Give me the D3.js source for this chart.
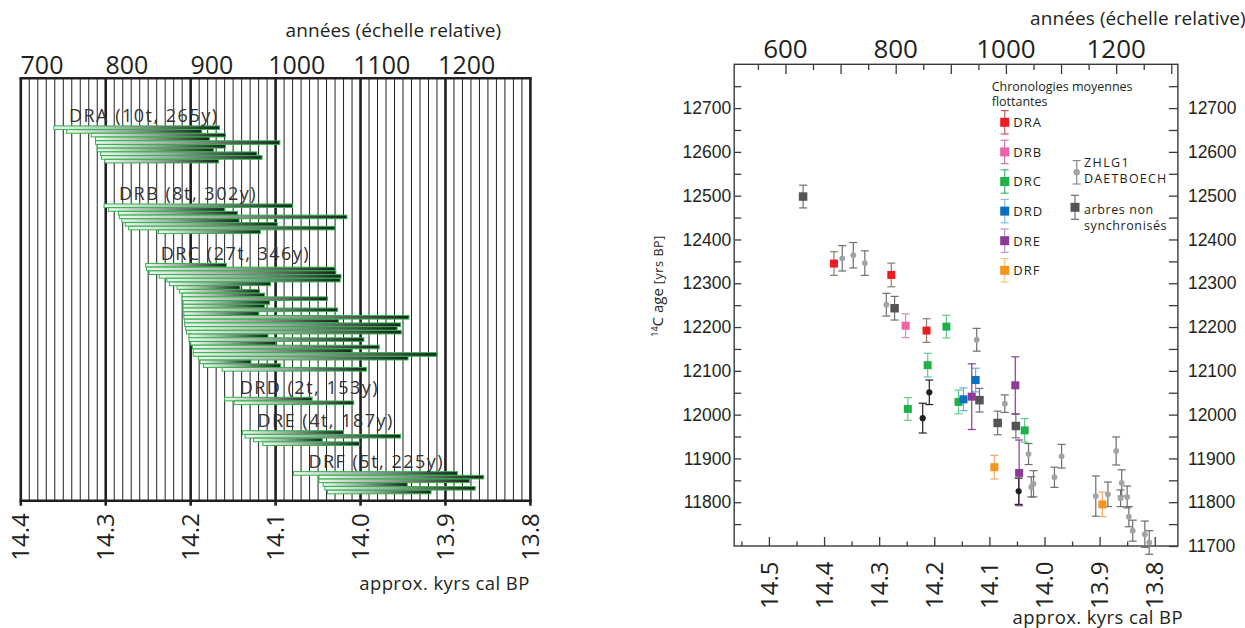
<!DOCTYPE html>
<html>
<head>
<meta charset="utf-8">
<script src="https://cdn.jsdelivr.net/npm/d3@7"></script>
<style>
    body { margin: 0; background: #fff; }
    svg { display: block; font-family: "Open Sans", sans-serif; }
</style>
</head>
<body>
<svg id="chart" width="1245" height="628"></svg>
<script>
// ---- data: floating tree-ring chronologies (relative years) ----
const chronoNames = ["DRA", "DRB", "DRC", "DRD", "DRE", "DRF"];
const chronoLabels = ["DRA (10t, 265y)", "DRB (8t, 302y)", "DRC (27t, 346y)", "DRD (2t, 153y)", "DRE (4t, 187y)", "DRF (5t, 225y)"];
const barsDRA = [[714, 909], [729, 888], [758, 916], [763, 897], [763, 980], [765, 916], [765, 902], [769, 953], [770, 959], [774, 908]];
const barsDRB = [[773, 995], [778, 915], [790, 930], [791, 1059], [794, 932], [798, 977], [802, 1045], [837, 957]];
const barsDRC = [[822, 917], [823, 1045], [826, 1046], [838, 1052], [847, 1051], [850, 969], [859, 933], [862, 956],
    [865, 962], [865, 1036], [866, 968], [866, 962], [866, 1048], [867, 955], [867, 1132], [868, 1049], [868, 1122],
    [869, 1118], [870, 1123], [873, 966], [873, 1079], [875, 975], [877, 1097], [878, 1065], [878, 1165], [884, 1131],
    [886, 946], [890, 981], [912, 1082]];
const barsDRD = [[915, 1018], [926, 1067]];
const barsDRE = [[936, 1055], [939, 1122], [949, 1030], [960, 1074]];
const barsDRF = [[996, 1189], [1026, 1220], [1026, 1203], [1031, 1130], [1033, 1210], [1036, 1158]];
const chronoBars = [barsDRA, barsDRB, barsDRC, barsDRD, barsDRE, barsDRF];

// ---- data: 14C dates [kyrs cal BP, 14C age, error] ----
const ptsDRA = [[14.382, 12345, 27], [14.278, 12319, 27], [14.214, 12192, 27]];
const ptsDRB = [[14.252, 12203, 27]];
const ptsDRC = [[14.178, 12201, 26], [14.212, 12113, 27], [14.248, 12013, 26], [14.156, 12029, 27], [14.036, 11964, 27]];
const ptsDRD = [[14.125, 12079, 27], [14.147, 12035, 26]];
const ptsDRE = [[14.132, 12041, 75], [14.053, 12067, 65], [14.046, 11867, 75]];
const ptsDRF = [[14.091, 11880, 27], [13.895, 11795, 28]];
const ptsZHLG = [[14.367, 12357, 29], [14.347, 12364, 29], [14.326, 12346, 28], [14.287, 12251, 26], [14.123, 12171, 26],
    [14.072, 12025, 20], [14.029, 11910, 24], [14.024, 11835, 23], [14.020, 11842, 30], [13.982, 11857, 23],
    [13.969, 11905, 27], [13.907, 11814, 46], [13.885, 11818, 28], [13.870, 11917, 32], [13.860, 11844, 30],
    [13.862, 11809, 19], [13.850, 11812, 25], [13.847, 11767, 23], [13.840, 11735, 24], [13.818, 11727, 30],
    [13.810, 11708, 27]];
const ptsBlack = [[14.209, 12051, 28], [14.221, 11992, 34], [14.047, 11825, 30]];
const ptsUnsync = [[14.438, 12498, 26], [14.272, 12243, 27], [14.118, 12033, 27], [14.085, 11981, 27], [14.052, 11974, 27]];

// ---- tick labels ----
const kyrTicksLeft = [14.4, 14.3, 14.2, 14.1, 14.0, 13.9, 13.8];
const yearTicksLeft = [700, 800, 900, 1000, 1100, 1200];
const kyrTicksRight = [14.5, 14.4, 14.3, 14.2, 14.1, 14.0, 13.9, 13.8];
const yearTicksRight = [600, 800, 1000, 1200];
const ageTicks = [11700, 11800, 11900, 12000, 12100, 12200, 12300, 12400, 12500, 12600, 12700];

const svg = d3.select("#chart");
const ink = "#231f20";
const fmt1 = d3.format(".1f");

// =================== left panel ===================
const xK = d3.scaleLinear().domain([14.4, 13.8]).range([20.8, 530.4]);
const xYr = d3.scaleLinear().domain([675, 1275]).range(xK.range());
const yTop = 78.3, yBot = 500.7;
const L = svg.append("g");

const defs = svg.append("defs");
const grad = defs.append("linearGradient").attr("id", "barGrad");
grad.selectAll("stop")
    .data([[0, "#f2f9f2"], [0.45, "#9ba79d"], [1, "#16221a"]])
    .join("stop")
    .attr("offset", d => d[0])
    .attr("stop-color", d => d[1]);

// grid every 10 years, heavy every 100
L.append("g").selectAll("line")
    .data(d3.range(675, 1276, 10))
    .join("line")
    .attr("x1", d => xYr(d)).attr("x2", d => xYr(d))
    .attr("y1", yTop).attr("y2", yBot)
    .attr("stroke", ink)
    .attr("stroke-width", d => (d - 675) % 100 === 0 ? 2.6 : 1);

L.append("line").attr("x1", xK.range()[0] - 1.3).attr("x2", xK.range()[1] + 1.3)
    .attr("y1", yTop).attr("y2", yTop).attr("stroke", ink).attr("stroke-width", 2.6);
L.append("line").attr("x1", xK.range()[0] - 1.3).attr("x2", xK.range()[1] + 1.3)
    .attr("y1", yBot).attr("y2", yBot).attr("stroke", ink).attr("stroke-width", 2.6);
L.append("g").selectAll("line")
    .data(kyrTicksLeft)
    .join("line")
    .attr("x1", d => xK(d)).attr("x2", d => xK(d))
    .attr("y1", yBot).attr("y2", yBot + 5)
    .attr("stroke", ink).attr("stroke-width", 2.6);

// rows: each chronology stacked, gaps leave room for the label
const gapRows = [0, 12, 9, 8, 8, 8];
let row = -1;
const groups = chronoBars.map((bars, i) => {
    row += (i === 0 ? 1 : gapRows[i]);
    const start = row;
    row += bars.length - 1;
    return { name: chronoNames[i], label: chronoLabels[i], bars, start };
});
const yRow = d3.scaleLinear().domain([0, row]).range([127.7, 492]);
const barH = 3.6;

for (const g of groups) {
    L.append("g").selectAll("rect")
        .data(g.bars)
        .join("rect")
        .attr("x", d => xYr(d[0]))
        .attr("width", d => xYr(d[1]) - xYr(d[0]))
        .attr("y", (d, i) => yRow(g.start + i) - barH / 2)
        .attr("height", barH)
        .attr("fill", "url(#barGrad)")
        .attr("stroke", "#2fb54c")
        .attr("stroke-width", 1);

    L.append("text")
        .attr("x", xYr(d3.min(g.bars, d => d[0])) + 15)
        .attr("y", yRow(g.start) - 5.5)
        .attr("font-size", 18)
        .attr("letter-spacing", 1.5)
        .attr("fill", "#333")
        .text(g.label);
}

L.append("g").selectAll("text")
    .data(yearTicksLeft)
    .join("text")
    .attr("x", d => xYr(d)).attr("y", 74)
    .attr("text-anchor", "middle")
    .attr("font-size", 25)
    .attr("fill", ink)
    .text(d => d);

L.append("g").selectAll("text")
    .data(kyrTicksLeft)
    .join("text")
    .attr("transform", d => `translate(${xK(d)},${yBot + 12.5}) rotate(-90)`)
    .attr("text-anchor", "end")
    .attr("dy", "0.36em")
    .attr("font-size", 24)
    .attr("fill", ink)
    .text(d => fmt1(d));

L.append("text").attr("x", 285.6).attr("y", 36.7)
    .attr("font-size", 19).attr("fill", ink).attr("letter-spacing", 0.1)
    .text("années (échelle relative)");
L.append("text").attr("x", 529.7).attr("y", 590)
    .attr("text-anchor", "end")
    .attr("font-size", 18.5).attr("fill", ink).attr("letter-spacing", 0.4)
    .text("approx. kyrs cal BP");

// =================== right panel ===================
const xR = d3.scaleLinear().domain([14.563, 13.758]).range([734.2, 1177.9]);
const xRyr = d3.scaleLinear().domain([507, 1312]).range(xR.range());
const yR = d3.scaleLinear().domain([11700, 12800]).range([546, 64.3]);
const R = svg.append("g");
const axisInk = "#3a3a3a";

const styleAxis = g => {
    g.select(".domain").remove();
    g.selectAll("line").attr("stroke", axisInk).attr("stroke-width", 1.3);
    g.selectAll("text").attr("font-family", null).attr("font-size", 17.5).attr("fill", ink);
};

R.append("g")
    .attr("transform", `translate(${xR.range()[0]},0)`)
    .call(d3.axisLeft(yR).tickValues(d3.range(11750, 12751, 50)).tickSize(-7).tickPadding(3)
        .tickFormat(d => d % 100 === 0 ? d : ""))
    .call(styleAxis);

R.append("g")
    .attr("transform", `translate(${xR.range()[1]},0)`)
    .call(d3.axisRight(yR).tickValues(d3.range(11700, 12751, 50)).tickSize(-9).tickPadding(10)
        .tickFormat(d => ageTicks.includes(d) ? d : ""))
    .call(styleAxis);

R.append("g")
    .attr("transform", `translate(0,${yR.range()[0]})`)
    .call(d3.axisBottom(xR).tickValues(kyrTicksRight).tickSize(-9).tickFormat(""))
    .call(styleAxis);
R.append("g")
    .attr("transform", `translate(0,${yR.range()[0]})`)
    .call(d3.axisBottom(xR).tickValues(kyrTicksRight.map(d => d + 0.05)).tickSize(-4.5).tickFormat(""))
    .call(styleAxis);

R.append("g")
    .attr("transform", `translate(0,${yR.range()[1]})`)
    .call(d3.axisTop(xRyr).tickValues(d3.range(600, 1301, 100)).tickSize(-9.7).tickFormat(""))
    .call(styleAxis);
R.append("g")
    .attr("transform", `translate(0,${yR.range()[1]})`)
    .call(d3.axisTop(xRyr).tickValues(d3.range(550, 1251, 100)).tickSize(-5.7).tickFormat(""))
    .call(styleAxis);

R.append("rect")
    .attr("x", xR.range()[0]).attr("y", yR.range()[1])
    .attr("width", xR.range()[1] - xR.range()[0])
    .attr("height", yR.range()[0] - yR.range()[1])
    .attr("fill", "none").attr("stroke", axisInk).attr("stroke-width", 1.4);

R.append("g").selectAll("text")
    .data(yearTicksRight)
    .join("text")
    .attr("x", d => xRyr(d)).attr("y", 58.3)
    .attr("text-anchor", "middle")
    .attr("font-size", 26)
    .attr("fill", ink)
    .text(d => d);

R.append("g").selectAll("text")
    .data(kyrTicksRight)
    .join("text")
    .attr("transform", d => `translate(${xR(d)},${yR.range()[0] + 15.5}) rotate(-90)`)
    .attr("text-anchor", "end")
    .attr("dy", "0.36em")
    .attr("font-size", 24)
    .attr("fill", ink)
    .text(d => fmt1(d));

R.append("text").attr("x", 1030).attr("y", 25)
    .attr("font-size", 19).attr("fill", ink).attr("letter-spacing", 0.1)
    .text("années (échelle relative)");
R.append("text").attr("x", 1183).attr("y", 624)
    .attr("text-anchor", "end")
    .attr("font-size", 18.5).attr("fill", ink).attr("letter-spacing", 0.4)
    .text("approx. kyrs cal BP");

const yTitle = R.append("text")
    .attr("transform", "translate(663,336.7) rotate(-90)")
    .attr("fill", ink);
yTitle.append("tspan").attr("font-size", 9).attr("dy", -5).text("14");
yTitle.append("tspan").attr("font-size", 15).attr("dy", 5).text("C age ");
yTitle.append("tspan").attr("font-size", 12.5).attr("letter-spacing", 0.6).text("[yrs BP]");

// series styles
const series = [
    { pts: ptsUnsync, shape: "square", size: 8.5, fill: "#545456", err: "#707070" },
    { pts: ptsZHLG, shape: "circle", size: 2.9, fill: "#a3a3a3", err: "#6e6e6e" },
    { pts: ptsBlack, shape: "circle", size: 3.1, fill: ink, err: ink },
    { pts: ptsDRA, shape: "square", size: 8, fill: "#ed1c24", err: "#8f7d6c" },
    { pts: ptsDRB, shape: "square", size: 8, fill: "#f062a8", err: "#d48cc0" },
    { pts: ptsDRC, shape: "square", size: 8, fill: "#1fb24a", err: "#62cc8c" },
    { pts: ptsDRD, shape: "square", size: 8, fill: "#0a70bf", err: "#5aaee0" },
    { pts: ptsDRE, shape: "square", size: 8, fill: "#8b3a96", err: "#8b3a96" },
    { pts: ptsDRF, shape: "square", size: 8, fill: "#f7941d", err: "#f4a868" }
];

const drawErr = (g, x, y0, y1, color) => {
    g.append("line").attr("x1", x).attr("x2", x).attr("y1", y0).attr("y2", y1)
        .attr("stroke", color).attr("stroke-width", 1.2);
    for (const y of [y0, y1]) {
        g.append("line").attr("x1", x - 4).attr("x2", x + 4).attr("y1", y).attr("y2", y)
            .attr("stroke", color).attr("stroke-width", 1.2);
    }
};
const drawMark = (g, shape, x, y, size, fill) => {
    if (shape === "square") {
        g.append("rect").attr("x", x - size / 2).attr("y", y - size / 2)
            .attr("width", size).attr("height", size).attr("fill", fill);
    } else {
        g.append("circle").attr("cx", x).attr("cy", y).attr("r", size).attr("fill", fill);
    }
};

const P = R.append("g");
for (const s of series) {
    for (const d of s.pts) {
        drawErr(P, xR(d[0]), yR(d[1] - d[2]), Math.max(yR(d[1] + d[2]), yR.range()[1]), s.err);
    }
}
for (const s of series) {
    for (const d of s.pts) {
        drawMark(P, s.shape, xR(d[0]), Math.min(yR(d[1]), yR.range()[0]), s.size, s.fill);
    }
}

// legend
const Lg = R.append("g");
Lg.append("text").attr("x", 991.7).attr("y", 90.7).attr("font-size", 12.5).attr("fill", ink).text("Chronologies moyennes");
Lg.append("text").attr("x", 991.7).attr("y", 106).attr("font-size", 12.5).attr("fill", ink).text("flottantes");
const legendErr = ["#d85862", "#d676ae", "#3fbb74", "#7cc0ea", "#c792cb", "#fbc27e"];
series.slice(3).forEach((s, i) => {
    const y = 122.3 + i * 29.6;
    drawErr(Lg, 1004.7, y + 11.7, y - 11.7, legendErr[i]);
    drawMark(Lg, "square", 1004.7, y, 9, s.fill);
    Lg.append("text").attr("x", 1013.3).attr("y", y + 4.8)
        .attr("font-size", 13).attr("letter-spacing", 1).attr("fill", ink)
        .text(chronoNames[i]);
});
drawErr(Lg, 1076.7, 184, 160.6, "#8a8a8a");
drawMark(Lg, "circle", 1076.7, 172.3, 3.2, "#a3a3a3");
Lg.append("text").attr("x", 1084).attr("y", 167.3).attr("font-size", 12.5).attr("letter-spacing", 1.4).attr("fill", ink).text("ZHLG1");
Lg.append("text").attr("x", 1084).attr("y", 183.3).attr("font-size", 12.5).attr("letter-spacing", 1.2).attr("fill", ink).text("DAETBOECH");
drawErr(Lg, 1075, 219.3, 195.3, "#707070");
drawMark(Lg, "square", 1075, 207.3, 9, "#545456");
Lg.append("text").attr("x", 1084).attr("y", 214.3).attr("font-size", 12.5).attr("letter-spacing", 0.6).attr("fill", ink).text("arbres non");
Lg.append("text").attr("x", 1084).attr("y", 230).attr("font-size", 12.5).attr("letter-spacing", 0.6).attr("fill", ink).text("synchronisés");
</script>
</body>
</html>
